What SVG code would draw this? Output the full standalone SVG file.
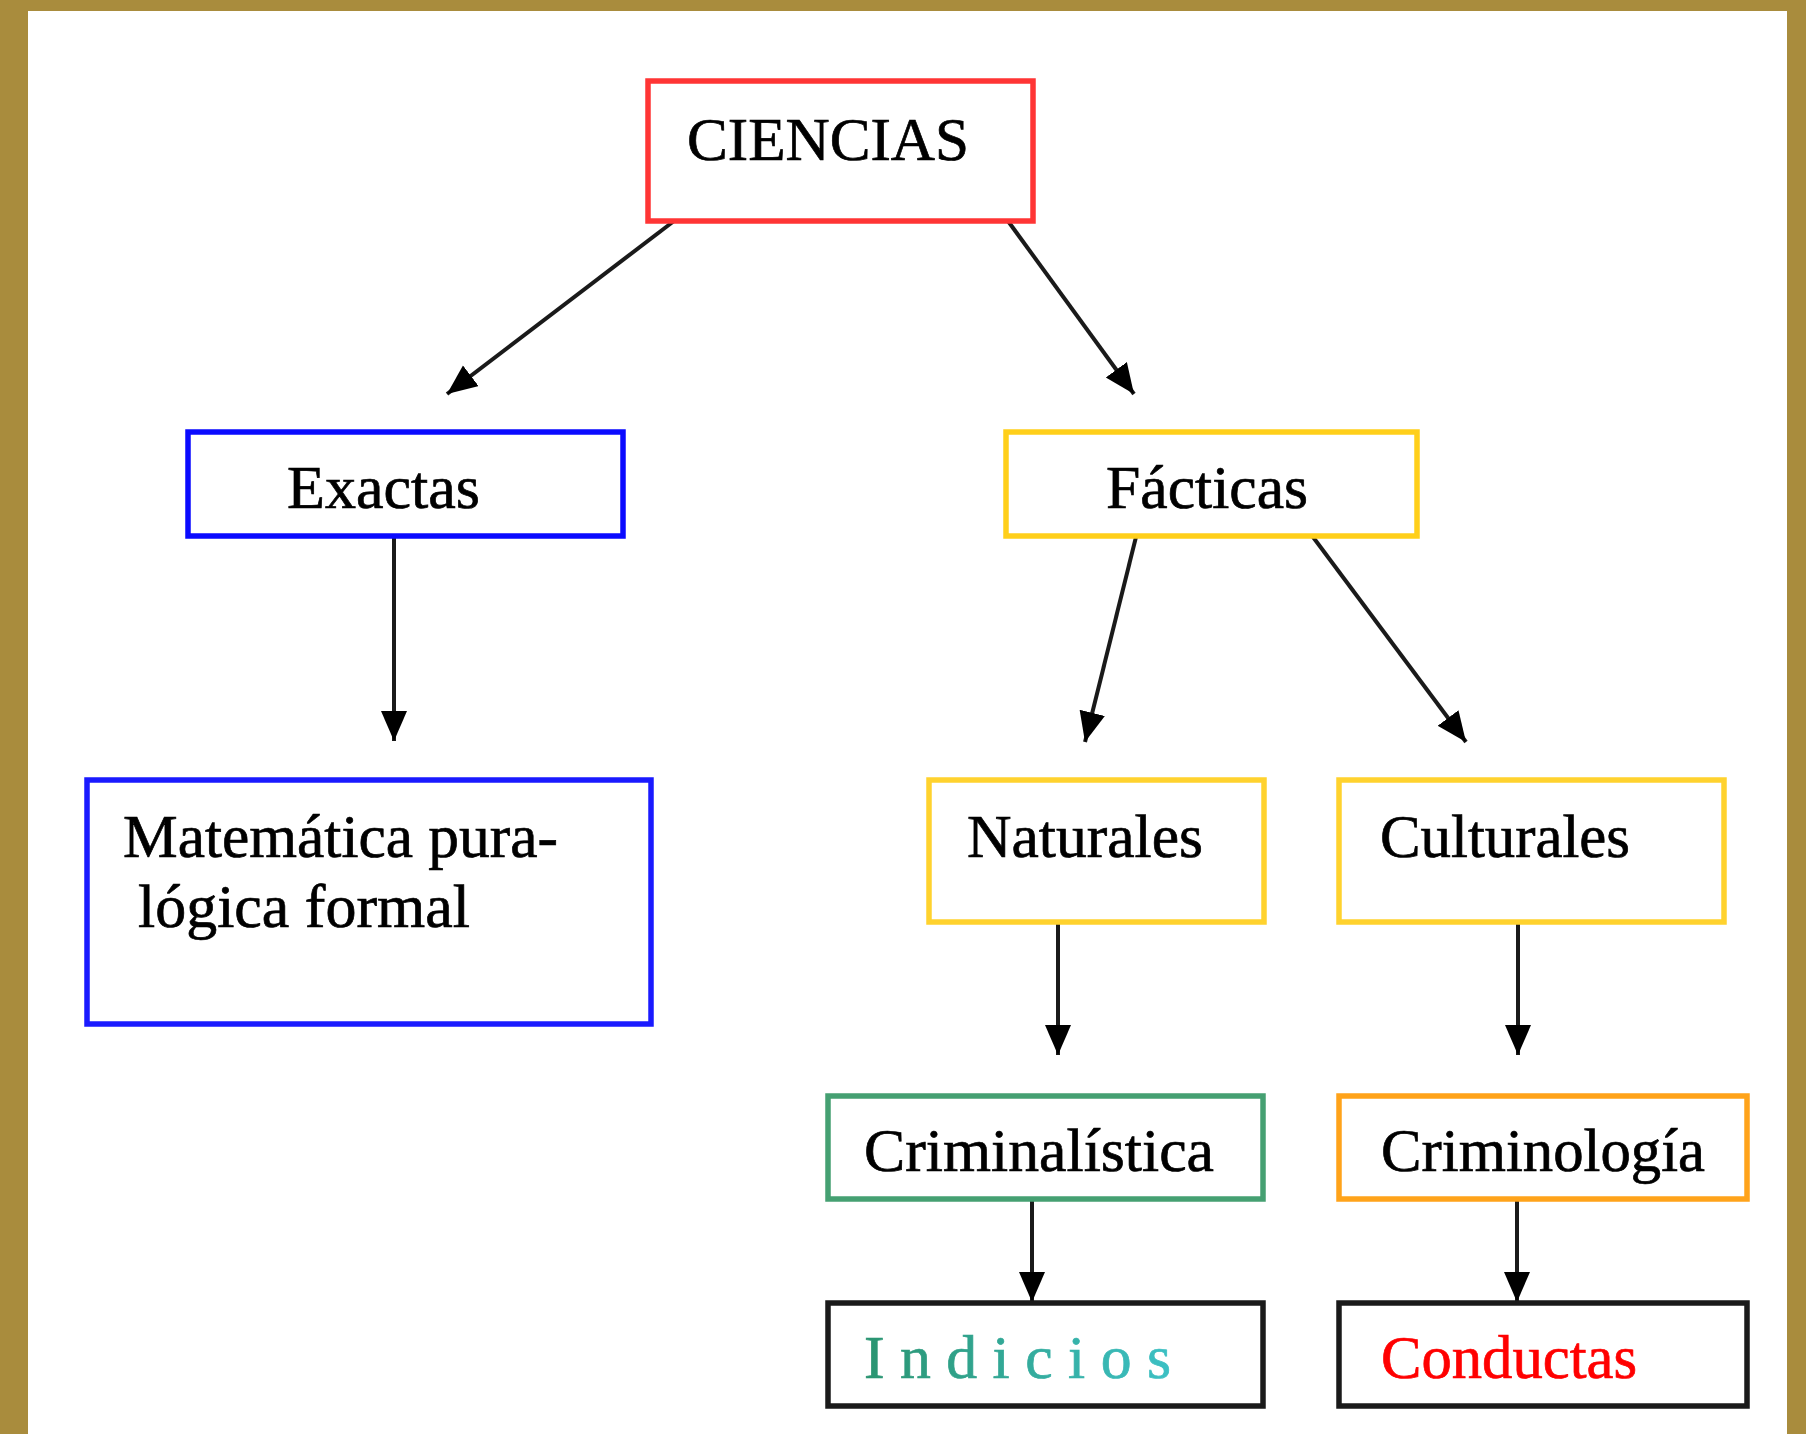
<svg xmlns="http://www.w3.org/2000/svg" width="1806" height="1434" viewBox="0 0 1806 1434">
<style>
.box{fill:#fff;stroke-width:5.5}
.t{font-family:"Liberation Serif","Times New Roman",serif;font-size:62px;fill:#000;stroke:#000;stroke-width:0.7}
.c{fill:none;stroke:#1a1a1a;stroke-width:4}
</style>
<defs>
<marker id="ah" markerUnits="userSpaceOnUse" markerWidth="32" markerHeight="28" refX="30" refY="13" orient="auto">
<path d="M0,0 L30,13 L0,26 z" fill="#000"/>
</marker>
<linearGradient id="gi" gradientUnits="userSpaceOnUse" x1="864" y1="0" x2="1171" y2="0">
<stop offset="0" stop-color="#2a9470"/>
<stop offset="1" stop-color="#3cc0c4"/>
</linearGradient>
</defs>
<rect x="0" y="0" width="1806" height="1434" fill="#a98c3d"/>
<rect x="28" y="11" width="1759" height="1423" fill="#fff"/>
<g id="connectors">
<line class="c" x1="674" y1="221" x2="447" y2="394" marker-end="url(#ah)"/>
<line class="c" x1="1008" y1="221" x2="1134" y2="394" marker-end="url(#ah)"/>
<line class="c" x1="394" y1="537" x2="394" y2="741" marker-end="url(#ah)"/>
<line class="c" x1="1136" y1="537" x2="1085" y2="742" marker-end="url(#ah)"/>
<line class="c" x1="1313" y1="537" x2="1466" y2="742" marker-end="url(#ah)"/>
<line class="c" x1="1058" y1="923" x2="1058" y2="1055" marker-end="url(#ah)"/>
<line class="c" x1="1518" y1="923" x2="1518" y2="1055" marker-end="url(#ah)"/>
<line class="c" x1="1032" y1="1199" x2="1032" y2="1302" marker-end="url(#ah)"/>
<line class="c" x1="1517" y1="1199" x2="1517" y2="1302" marker-end="url(#ah)"/>
</g>
<g id="ciencias">
<rect class="box" x="648" y="81" width="385" height="140" stroke="#ff3535" stroke-width="6"/>
<text class="t" x="687" y="160" textLength="282" lengthAdjust="spacingAndGlyphs">CIENCIAS</text>
</g>
<g id="exactas">
<rect class="box" x="188" y="432" width="435" height="104" stroke="#0a0aff"/>
<text class="t" x="287" y="508" textLength="193" lengthAdjust="spacingAndGlyphs">Exactas</text>
</g>
<g id="facticas">
<rect class="box" x="1006" y="432" width="411" height="104" stroke="#ffcf1a"/>
<text class="t" x="1106" y="508" textLength="202" lengthAdjust="spacingAndGlyphs">Fácticas</text>
</g>
<g id="matematica">
<rect class="box" x="87" y="780" width="564" height="244" stroke="#1a1aff"/>
<text class="t" x="123" y="857" textLength="435" lengthAdjust="spacingAndGlyphs">Matemática pura-</text>
<text class="t" x="138" y="927" textLength="332" lengthAdjust="spacingAndGlyphs">lógica formal</text>
</g>
<g id="naturales">
<rect class="box" x="929" y="780" width="335" height="142" stroke="#ffd22e"/>
<text class="t" x="967" y="857" textLength="236" lengthAdjust="spacingAndGlyphs">Naturales</text>
</g>
<g id="culturales">
<rect class="box" x="1339" y="780" width="385" height="142" stroke="#ffd22e"/>
<text class="t" x="1380" y="857" textLength="250" lengthAdjust="spacingAndGlyphs">Culturales</text>
</g>
<g id="criminalistica">
<rect class="box" x="828" y="1096" width="435" height="103" stroke="#45a072"/>
<text class="t" x="864" y="1171" textLength="350" lengthAdjust="spacingAndGlyphs">Criminalística</text>
</g>
<g id="criminologia">
<rect class="box" x="1339" y="1096" width="408" height="103" stroke="#ffa31a"/>
<text class="t" x="1381" y="1171" textLength="324" lengthAdjust="spacingAndGlyphs">Criminología</text>
</g>
<g id="indicios">
<rect class="box" x="828" y="1303" width="435" height="103" stroke="#1a1a1a"/>
<text class="t" x="864" y="1378" textLength="307" lengthAdjust="spacingAndGlyphs" style="fill:url(#gi);stroke:url(#gi)">I n d i c i o s</text>
</g>
<g id="conductas">
<rect class="box" x="1339" y="1303" width="408" height="103" stroke="#1a1a1a"/>
<text class="t" x="1381" y="1378" textLength="256" lengthAdjust="spacingAndGlyphs" style="fill:#ff0000;stroke:#ff0000">Conductas</text>
</g>
</svg>
